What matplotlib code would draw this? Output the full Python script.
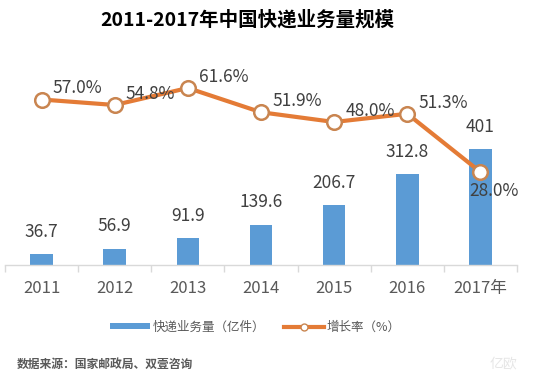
import matplotlib
matplotlib.use("Agg")
import matplotlib.pyplot as plt
from matplotlib.patches import Patch
from matplotlib.lines import Line2D

plt.rcParams['font.family'] = ['Noto Sans CJK SC', 'DejaVu Sans']

years = ["2011", "2012", "2013", "2014", "2015", "2016", "2017年"]
volume = [36.7, 56.9, 91.9, 139.6, 206.7, 312.8, 401]
volume_labels = ["36.7", "56.9", "91.9", "139.6", "206.7", "312.8", "401"]
growth = [57.0, 54.8, 61.6, 51.9, 48.0, 51.3, 28.0]

title = "2011-2017年中国快递业务量规模"
legend_bar = "快递业务量（亿件）"
legend_line = "增长率（%）"
source = "数据来源：国家邮政局、双壹咨询"

BLUE = "#5B9BD5"
ORANGE = "#E47B36"
TXT = "#404040"
GRAY = "#595959"

W, H = 540, 378
fig = plt.figure(figsize=(5.4, 3.78), dpi=100)
ax = fig.add_axes([5 / W, 1 - 265 / H, (517 - 5) / W, (265 - 60) / H])
ax2 = ax.twinx()

x = list(range(len(years)))
ax.bar(x, volume, width=0.31, color=BLUE, zorder=2)
ax.set_xlim(-0.5, len(years) - 0.5)
ax.set_ylim(0, 707)

ax2.plot(x, growth, color=ORANGE, lw=3, marker='o', markersize=10.5,
         markerfacecolor='white', markeredgecolor="#C98550", markeredgewidth=1.8,
         zorder=3)
ax2.set_ylim(-9.2, 72.8)

for xi, v, lab in zip(x, volume, volume_labels):
    ax.annotate(lab, (xi, v), xytext=(0, 16), textcoords='offset points',
                ha='center', va='center', fontsize=12.5, color=TXT)

for i, (xi, g) in enumerate(zip(x, growth)):
    txt = f"{g:.1f}%"
    if i == len(growth) - 1:
        ax2.annotate(txt, (xi, g), xytext=(10, -14), textcoords='offset points',
                     ha='center', va='center', fontsize=12.5, color=TXT, zorder=4)
    else:
        ax2.annotate(txt, (xi, g), xytext=(8, 8), textcoords='offset points',
                     ha='left', va='center', fontsize=12.5, color=TXT, zorder=4)

for a in (ax, ax2):
    for s in ('top', 'right', 'left'):
        a.spines[s].set_visible(False)
    a.set_yticks([])
ax2.spines['bottom'].set_visible(False)
ax.spines['bottom'].set_color("#D9D9D9")
ax.spines['bottom'].set_linewidth(1)

ax.set_xticks([i - 0.5 for i in range(len(years) + 1)], minor=False)
ax.set_xticklabels([""] * (len(years) + 1))
ax.tick_params(axis='x', which='major', length=5, color="#D9D9D9", width=1)
ax.set_xticks(x, minor=True)
ax.set_xticklabels(years, minor=True)
ax.tick_params(axis='x', which='minor', length=0, pad=11, labelsize=12,
               labelcolor=GRAY)

fig.text(247 / W, 1 - 20 / H, title, ha='center', va='center',
         fontsize=14, fontweight='bold', color='black')

handles = [Patch(facecolor=BLUE, edgecolor='none'),
           Line2D([0], [0], color=ORANGE, lw=3, marker='o', markersize=5,
                  markerfacecolor='white', markeredgecolor="#C98550")]
leg = fig.legend(handles, [legend_bar, legend_line], ncol=2,
                 loc='center', bbox_to_anchor=(255 / W, 1 - 327 / H),
                 frameon=False, fontsize=9, handlelength=3.2,
                 handleheight=0.45, handletextpad=0.2, columnspacing=1.5)
for t in leg.get_texts():
    t.set_color(GRAY)

fig.text(17 / W, 1 - 364 / H, source, ha='left', va='center',
         fontsize=8.5, fontweight='bold', color=GRAY)
fig.text(503 / W, 1 - 364 / H, "亿欧", ha='center', va='center',
         fontsize=10, color="#E6E6E6")

fig.savefig("out.png", dpi=100)
